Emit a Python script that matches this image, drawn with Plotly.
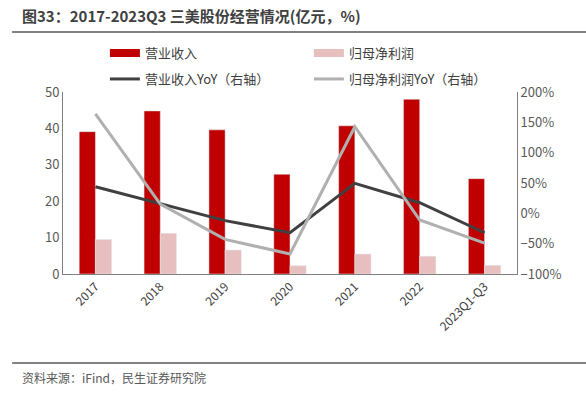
import plotly.graph_objects as go

categories = ["2017", "2018", "2019", "2020", "2021", "2022", "2023Q1-Q3"]
revenue = [39.1, 44.8, 39.6, 27.4, 40.7, 48.0, 26.2]
net_profit = [9.5, 11.2, 6.6, 2.3, 5.5, 4.9, 2.4]
revenue_yoy = [43.8, 15.3, -12.0, -32.0, 49.4, 17.5, -32.0]
net_profit_yoy = [164.0, 15.3, -43.0, -67.0, 142.7, -11.0, -49.0]

FONT = "Noto Sans CJK SC"
RED = "#C00000"
PINK = "#E8BFBF"

fig = go.Figure()
fig.add_trace(go.Bar(x=categories, y=revenue, name="营业收入", marker_color=RED, showlegend=False))
fig.add_trace(go.Bar(x=categories, y=net_profit, name="归母净利润", marker_color=PINK, showlegend=False))
fig.add_trace(go.Scatter(x=categories, y=revenue_yoy, name="营业收入YoY（右轴）", mode="lines",
                         line=dict(color="#404040", width=3), yaxis="y2", legend="legend2"))
fig.add_trace(go.Scatter(x=categories, y=net_profit_yoy, name="归母净利润YoY（右轴）", mode="lines",
                         line=dict(color="#B0B0B0", width=3), yaxis="y2", legend="legend2"))
# legend-only swatches for the bars (wide rectangles as in the reference)
fig.add_trace(go.Scatter(x=[None], y=[None], name="营业收入", mode="lines",
                         line=dict(color=RED, width=8), legend="legend"))
fig.add_trace(go.Scatter(x=[None], y=[None], name="归母净利润", mode="lines",
                         line=dict(color=PINK, width=8), legend="legend"))

axis_font = dict(family=FONT, size=13, color="#595959")
leg_font = dict(family=FONT, size=13, color="#404040")

fig.update_layout(
    width=586, height=399,
    margin=dict(l=63, r=69, t=92, b=125, autoexpand=False),
    paper_bgcolor="white", plot_bgcolor="white",
    barmode="group", bargap=0.5, bargroupgap=0,
    font=dict(family=FONT, color="#404040"),
    xaxis=dict(tickangle=-45, tickfont=dict(family=FONT, size=12, color="#404040"),
               showline=True, linecolor="#7F7F7F", linewidth=1, ticks="", showgrid=False),
    yaxis=dict(range=[0, 50], dtick=10, tickfont=axis_font, showline=True, linecolor="#7F7F7F",
               linewidth=1, showgrid=False, zeroline=False, ticks=""),
    yaxis2=dict(range=[-100, 200], dtick=50, overlaying="y", side="right", ticksuffix="%",
                tickfont=axis_font, showline=True, linecolor="#7F7F7F", linewidth=1,
                showgrid=False, zeroline=False, ticks=""),
    legend=dict(orientation="h", xref="container", yref="container", x=0.179, y=0.867,
                xanchor="left", yanchor="middle",
                entrywidth=159, entrywidthmode="pixels",
                font=leg_font, bgcolor="rgba(0,0,0,0)"),
    legend2=dict(orientation="h", xref="container", yref="container", x=0.179, y=0.802,
                 xanchor="left", yanchor="middle",
                 entrywidth=159, entrywidthmode="pixels",
                 font=leg_font, bgcolor="rgba(0,0,0,0)"),
    shapes=[
        dict(type="line", xref="paper", yref="paper", x0=-0.112, x1=1.152, y0=1.33, y1=1.33,
             line=dict(color="#595959", width=1.5)),
        dict(type="line", xref="paper", yref="paper", x0=-0.112, x1=1.152, y0=-0.489, y1=-0.489,
             line=dict(color="#595959", width=1.5)),
    ],
    annotations=[
        dict(text="<b>图33：2017-2023Q3 三美股份经营情况(亿元，%)</b>", xref="paper", yref="paper",
             x=-0.095, y=1.418, xanchor="left", yanchor="middle", showarrow=False,
             font=dict(family=FONT, size=15, color="#404040")),
        dict(text="资料来源：iFind，民生证券研究院", xref="paper", yref="paper",
             x=-0.095, y=-0.566, xanchor="left", yanchor="middle", showarrow=False,
             font=dict(family=FONT, size=12, color="#595959")),
    ],
)

fig.write_html("out.html", config={"displayModeBar": False},
               post_script="document.body.style.margin='0';")
